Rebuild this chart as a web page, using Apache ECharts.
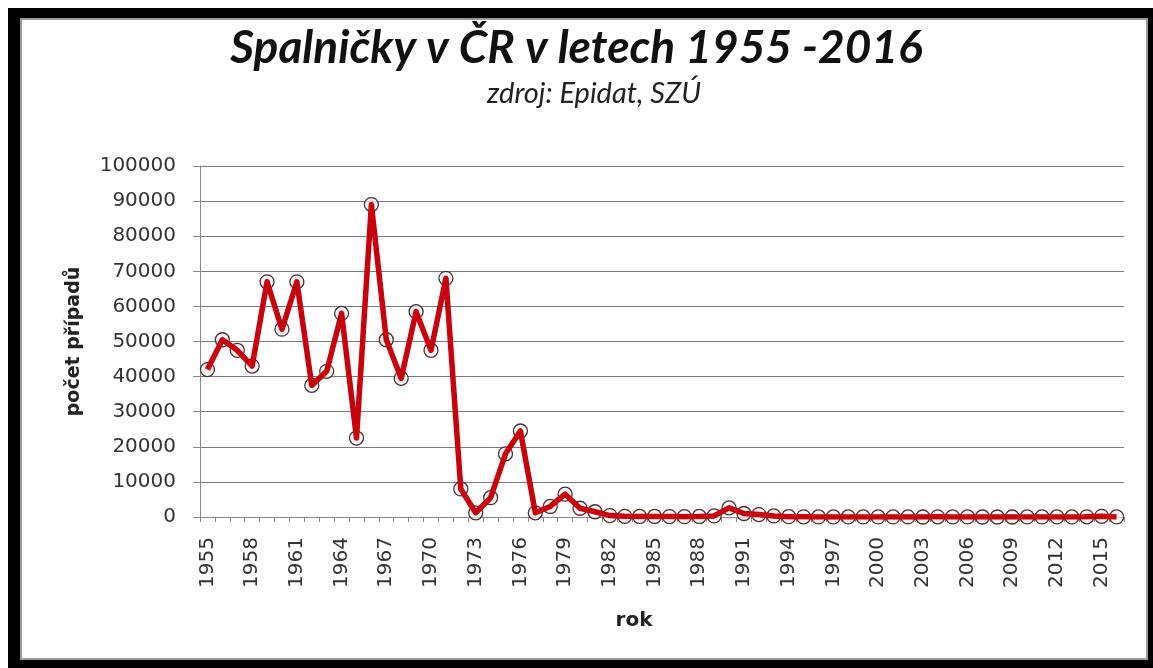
<!DOCTYPE html>
<html lang="cs">
<head>
    <meta charset="UTF-8">
    <title>Spalničky v ČR</title>
    <script src="https://cdn.jsdelivr.net/npm/echarts@6/dist/echarts.min.js"></script>
    <style>
        html, body { margin: 0; padding: 0; background: #fff; }
        #main { position: absolute; left: 0; top: 0; width: 1153px; height: 668px; }
        .frame {
            position: absolute;
            left: 8px; top: 8px; right: 0; bottom: 0;
            border-style: solid;
            border-color: #000;
            border-width: 10px 5px 8px 12px;
            box-shadow: inset 0 0 0 2px #9a9a9a;
            pointer-events: none;
        }
    </style>
</head>
<body>
<div id="main"></div>
<div class="frame"></div>
<script type="text/javascript">
    // roky 1955 - 2016
    var years = ['1955', '1956', '1957', '1958', '1959', '1960', '1961', '1962', '1963', '1964',
        '1965', '1966', '1967', '1968', '1969', '1970', '1971', '1972', '1973', '1974',
        '1975', '1976', '1977', '1978', '1979', '1980', '1981', '1982', '1983', '1984',
        '1985', '1986', '1987', '1988', '1989', '1990', '1991', '1992', '1993', '1994',
        '1995', '1996', '1997', '1998', '1999', '2000', '2001', '2002', '2003', '2004',
        '2005', '2006', '2007', '2008', '2009', '2010', '2011', '2012', '2013', '2014',
        '2015', '2016'];

    // počet případů
    var cases = [42000, 50500, 47500, 43000, 67000, 53500, 67000, 37500, 41500, 58000,
        22500, 89000, 50500, 39500, 58500, 47500, 68000, 8000, 1200, 5500,
        18000, 24500, 1200, 3000, 6500, 2500, 1500, 400, 200, 150,
        150, 120, 100, 150, 300, 2600, 1000, 700, 300, 100,
        50, 30, 20, 10, 20, 30, 10, 10, 5, 40,
        10, 10, 5, 5, 2, 10, 20, 10, 20, 60, 200, 10];

    var yMin = 0, yMax = 100000, yStep = 10000;

    var myChart = echarts.init(document.getElementById('main'));

    var axisFont = {fontFamily: 'DejaVu Sans', fontSize: 20, color: '#333'};

    var option = {
        backgroundColor: '#fff',
        animation: false,
        title: [
            {
                text: 'Spalničky v ČR v letech 1955 -2016',
                left: 'center',
                top: 20,
                textStyle: {fontFamily: 'Lato', fontStyle: 'italic', fontWeight: 'bold', fontSize: 46, color: '#111'}
            },
            {
                text: 'zdroj: Epidat, SZÚ',
                left: 482,
                top: 74,
                textStyle: {fontFamily: 'Lato', fontStyle: 'italic', fontWeight: 'normal', fontSize: 29, color: '#222'}
            }
        ],
        grid: {left: 200, right: 29, top: 166, bottom: 151, containLabel: false},
        xAxis: {
            type: 'category',
            data: years,
            boundaryGap: true,
            name: 'rok',
            nameLocation: 'middle',
            nameGap: 94,
            nameTextStyle: {fontFamily: 'DejaVu Sans', fontWeight: 'bold', fontSize: 20, color: '#222', padding: [0, 56, 0, 0]},
            axisLine: {lineStyle: {color: '#888', width: 1}},
            axisTick: {show: true, interval: 0, length: 5, lineStyle: {color: '#888'}},
            axisLabel: Object.assign({interval: 2, rotate: 90, margin: 20}, axisFont),
            splitLine: {show: false}
        },
        yAxis: {
            type: 'value',
            min: yMin,
            max: yMax,
            interval: yStep,
            name: 'počet případů',
            nameLocation: 'middle',
            nameGap: 116,
            nameRotate: 90,
            nameTextStyle: {fontFamily: 'DejaVu Sans', fontWeight: 'bold', fontSize: 19, color: '#222'},
            axisLine: {show: true, lineStyle: {color: '#888', width: 1}},
            axisTick: {show: true, length: 7, lineStyle: {color: '#888'}},
            axisLabel: Object.assign({margin: 24, formatter: function (v) { return String(v); }}, axisFont),
            splitLine: {show: true, lineStyle: {color: '#7a7a7a', width: 1}}
        },
        series: [
            {
                // kroužky pod čárou
                name: 'body',
                type: 'line',
                data: cases,
                z: 2,
                symbol: 'circle',
                symbolSize: 14,
                showAllSymbol: true,
                lineStyle: {opacity: 0},
                itemStyle: {color: 'rgba(255,240,240,0.7)', borderColor: '#4a3030', borderWidth: 1.3}
            },
            {
                name: 'počet případů',
                type: 'line',
                data: cases,
                z: 3,
                symbol: 'none',
                lineStyle: {color: '#c8000c', width: 5.5, join: 'round'}
            }
        ]
    };

    myChart.setOption(option);
</script>
</body>
</html>
